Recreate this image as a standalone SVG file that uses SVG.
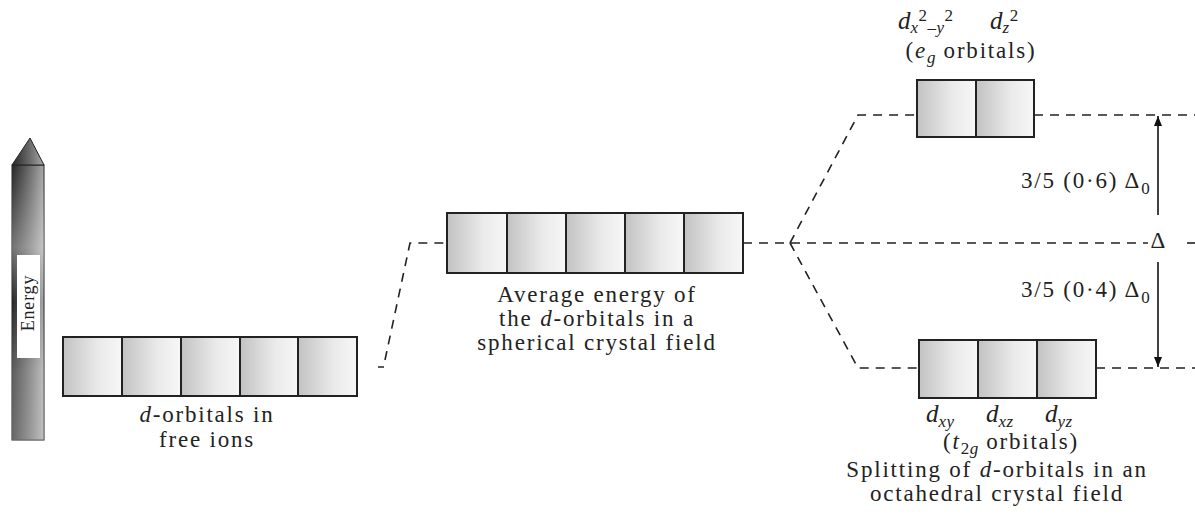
<svg xmlns="http://www.w3.org/2000/svg" width="1195" height="525" viewBox="0 0 1195 525">
<defs>
<linearGradient id="cell" x1="0" y1="0" x2="1" y2="0">
<stop offset="0" stop-color="#c2c2c2"/>
<stop offset="0.6" stop-color="#eaeaea"/>
<stop offset="1" stop-color="#f7f7f7"/>
</linearGradient>
<linearGradient id="bar" x1="0" y1="0" x2="1" y2="0">
<stop offset="0" stop-color="#262626"/>
<stop offset="0.55" stop-color="#6a6a6a"/>
<stop offset="1" stop-color="#a8a8a8"/>
</linearGradient>
<linearGradient id="barv" x1="0" y1="0" x2="0" y2="1">
<stop offset="0" stop-color="#fff" stop-opacity="0"/>
<stop offset="0.3" stop-color="#fff" stop-opacity="0.35"/>
<stop offset="0.5" stop-color="#fff" stop-opacity="0"/>
<stop offset="0.75" stop-color="#fff" stop-opacity="0.25"/>
<stop offset="1" stop-color="#fff" stop-opacity="0.3"/>
</linearGradient>
<marker id="ah" viewBox="0 0 10 10" refX="10" refY="5" markerWidth="10" markerHeight="10" markerUnits="userSpaceOnUse" orient="auto">
<path d="M0,1 L10,5 L0,9 Z" fill="#111"/>
</marker>
</defs>
<style>
.cell{fill:url(#cell);stroke:#222;stroke-width:2}
.dash{fill:none;stroke:#222;stroke-width:1.6;stroke-dasharray:9 7}
.t{font-family:"Liberation Serif","Times New Roman",serif;font-size:23px;letter-spacing:1.8px;fill:#222}
.c{text-anchor:middle}
.i{font-style:italic}
.sub{font-size:17px;letter-spacing:0.5px}
</style>

<g id="energy-axis">
<rect x="12" y="165" width="32" height="275" fill="url(#bar)" stroke="#222" stroke-width="1"/>
<rect x="12" y="165" width="32" height="275" fill="url(#barv)"/>
<path d="M12,165 L30,138 L44,165 Z" fill="url(#bar)" stroke="#222" stroke-width="1"/>
<rect x="17" y="255" width="23" height="103" fill="#fff"/>
<text class="t" transform="translate(34,303) rotate(-90)" text-anchor="middle" style="font-size:18px;letter-spacing:0.8px">Energy</text>
</g>

<g id="connectors">
<path class="dash" d="M378,367 L384,367 M385,360 L410,243 L447,243"/>
<path class="dash" d="M743,243 L1148,243"/>
<path class="dash" d="M1187,243 L1195,243"/>
<path class="dash" d="M790,243 L858,115 L917,115"/>
<path class="dash" d="M790,243 L858,368 L919,368"/>
<path class="dash" d="M1034,115 L1195,115"/>
<path class="dash" d="M1096,368 L1195,368"/>
<line x1="1158" y1="215" x2="1158" y2="116" stroke="#111" stroke-width="1.6" marker-end="url(#ah)"/>
<line x1="1158" y1="262" x2="1158" y2="367" stroke="#111" stroke-width="1.6" marker-end="url(#ah)"/>
</g>

<g id="free-ion-orbitals">
<rect class="cell" x="63" y="337" width="59" height="59"/>
<rect class="cell" x="122" y="337" width="59" height="59"/>
<rect class="cell" x="181" y="337" width="59" height="59"/>
<rect class="cell" x="240" y="337" width="58" height="59"/>
<rect class="cell" x="298" y="337" width="59" height="59"/>
<text class="t c" x="207" y="422"><tspan class="i">d</tspan>-orbitals in</text>
<text class="t c" x="207" y="447">free ions</text>
</g>

<g id="spherical-field-orbitals">
<rect class="cell" x="447" y="213" width="60" height="60"/>
<rect class="cell" x="507" y="213" width="59" height="60"/>
<rect class="cell" x="566" y="213" width="59" height="60"/>
<rect class="cell" x="625" y="213" width="59" height="60"/>
<rect class="cell" x="684" y="213" width="59" height="60"/>
<text class="t c" x="597" y="302">Average energy of</text>
<text class="t c" x="597" y="326">the <tspan class="i">d</tspan>-orbitals in a</text>
<text class="t c" x="597" y="350">spherical crystal field</text>
</g>

<g id="eg-orbitals">
<rect class="cell" x="917" y="80" width="59" height="57"/>
<rect class="cell" x="976" y="80" width="58" height="57"/>
<text class="t" x="898" y="29" style="font-size:25px;letter-spacing:0"><tspan class="i">d</tspan><tspan class="i sub" dy="4">x</tspan><tspan class="sub" dy="-12">2</tspan><tspan class="sub" dy="12">–</tspan><tspan class="i sub">y</tspan><tspan class="sub" dy="-12">2</tspan></text>
<text class="t" x="990" y="29" style="font-size:25px;letter-spacing:0"><tspan class="i">d</tspan><tspan class="i sub" dy="4">z</tspan><tspan class="sub" dy="-12">2</tspan></text>
<text class="t c" x="971" y="58">(<tspan class="i">e</tspan><tspan class="i sub" dy="5">g</tspan><tspan dy="-5"> orbitals)</tspan></text>
</g>

<g id="t2g-orbitals">
<rect class="cell" x="919" y="340" width="59" height="58"/>
<rect class="cell" x="978" y="340" width="59" height="58"/>
<rect class="cell" x="1037" y="340" width="59" height="58"/>
<text class="t" x="926" y="422" style="font-size:25px;letter-spacing:0"><tspan class="i">d</tspan><tspan class="i sub" dy="5">xy</tspan></text>
<text class="t" x="986" y="422" style="font-size:25px;letter-spacing:0"><tspan class="i">d</tspan><tspan class="i sub" dy="5">xz</tspan></text>
<text class="t" x="1045" y="422" style="font-size:25px;letter-spacing:0"><tspan class="i">d</tspan><tspan class="i sub" dy="5">yz</tspan></text>
<text class="t c" x="1011" y="449">(<tspan class="i">t</tspan><tspan class="sub" dy="5">2<tspan class="i">g</tspan></tspan><tspan dy="-5"> orbitals)</tspan></text>
<text class="t c" x="997" y="477">Splitting of <tspan class="i">d</tspan>-orbitals in an</text>
<text class="t c" x="997" y="501">octahedral crystal field</text>
</g>

<g id="splitting-labels">
<text class="t" x="1021" y="188">3/5 (0·6) Δ<tspan class="sub" dy="6">0</tspan></text>
<text class="t" x="1021" y="297">3/5 (0·4) Δ<tspan class="sub" dy="6">0</tspan></text>
<text class="t c" x="1158" y="248" style="letter-spacing:0">Δ</text>
</g>
</svg>
